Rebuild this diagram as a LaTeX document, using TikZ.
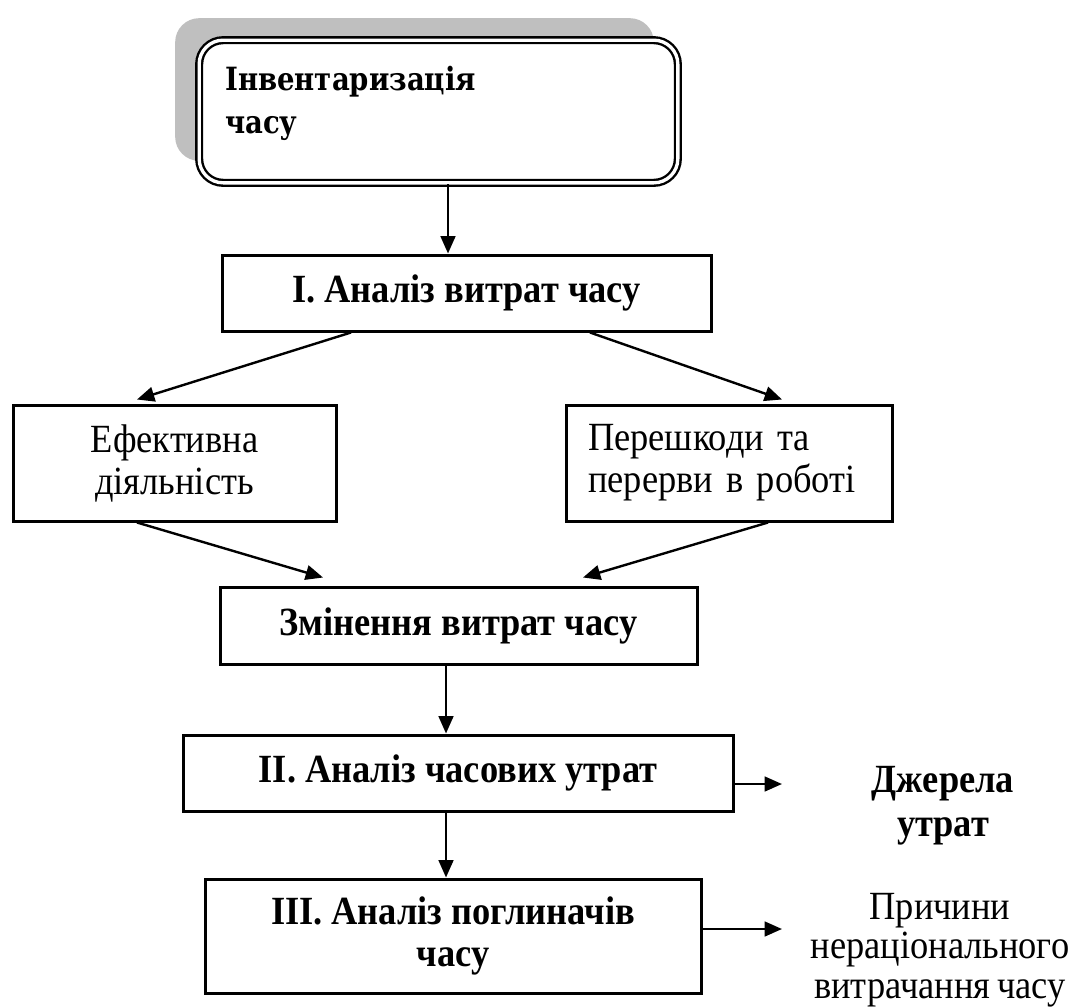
\documentclass[tikz,border=0pt]{standalone}
\usepackage{fontspec}
\setmainfont[FakeStretch=0.91,UprightFeatures={WordSpace=0.8}]{Liberation Serif}
\newfontfamily\slabfont[FakeStretch=0.86]{DejaVu Serif}
\usetikzlibrary{arrows.meta,shadows,calc}

\begin{document}
\begin{tikzpicture}[x=0.75pt,y=-0.75pt,
    txt/.style={font=\fontsize{30}{31.5}\selectfont},
    bold/.style={font=\fontsize{30}{32}\selectfont\bfseries},
    blk/.style={draw,line width=2.25pt,inner sep=0pt,align=center},
    arr/.style={line width=1.8pt,-{Triangle[length=13pt,width=11pt]}}]
  \useasboundingbox (0,0) rectangle (1089,1007);
  % top block with its shadow
  \node[draw,line width=1.8pt,double,double distance=2.5pt,rounded corners=18pt,
    fill=white,general shadow={fill=black!25,shadow xshift=-18pt,shadow yshift=16.5pt},
    minimum width=359pt,minimum height=107pt,inner sep=5.5pt,
    font=\slabfont\bfseries\fontsize{24}{32}\selectfont] (inv) at (438.5,111.5)
    {\parbox[c][96pt][t]{320pt}{\vspace*{14pt}Інвентаризація\\часу}};
  \node[blk,bold,minimum width=366.75pt,minimum height=57pt] (an1) at (466.5,293)
    {I. Аналіз витрат часу};
  \node[blk,txt,minimum width=242.25pt,minimum height=87pt] (eff) at (174.5,463)
    {Ефективна\\діяльність};
  \node[blk,txt,align=left,text width=212pt,inner xsep=16.5pt,minimum height=87pt]
    (obst) at (729.5,463) {Перешкоди та\\перерви в роботі};
  \node[blk,bold,minimum width=357.75pt,minimum height=57.75pt] (chg) at (458.5,625.5)
    {Змінення витрат часу};
  \node[blk,bold,minimum width=412.5pt,minimum height=57pt] (an2) at (458,773)
    {II. Аналіз часових утрат};
  \node[blk,bold,minimum width=372pt,minimum height=85.5pt] (an3) at (453,936)
    {III. Аналіз поглиначів\\часу};
  \node[align=center,font=\fontsize{30}{33}\selectfont\bfseries] (src) at (943,806)
    {Джерела\\утрат};
  \node[align=center,font=\fontsize{30}{29.5}\selectfont] (why) at (940,950)
    {Причини\\нераціонального\\витрачання часу};
  \coordinate (spine) at (448,0);
  \coordinate (spine2) at (446,0);
  \coordinate (srcend) at (782,784);
  \coordinate (whyend) at (782,929);
  % connectors
  \draw[arr] (inv.south -| spine) -- (an1.north -| spine);
  \draw[arr] (an1.south -| 351,0) -- ($(eff.north -| 137,0)+(0,-4)$);
  \draw[arr] (an1.south -| 590,0) -- ($(obst.north -| 782,0)+(0,-4)$);
  \draw[arr] (eff.south -| 137,0) -- ($(chg.north -| 323,0)+(0,-8)$);
  \draw[arr] (obst.south -| 768,0) -- ($(chg.north -| 583,0)+(0,-8)$);
  \draw[arr] (chg.south -| spine2) -- (an2.north -| spine2);
  \draw[arr] (an2.south -| spine2) -- (an3.north -| spine2);
  \draw[arr] (an2.east |- srcend) -- (srcend);
  \draw[arr] (an3.east |- whyend) -- (whyend);
\end{tikzpicture}
\end{document}
